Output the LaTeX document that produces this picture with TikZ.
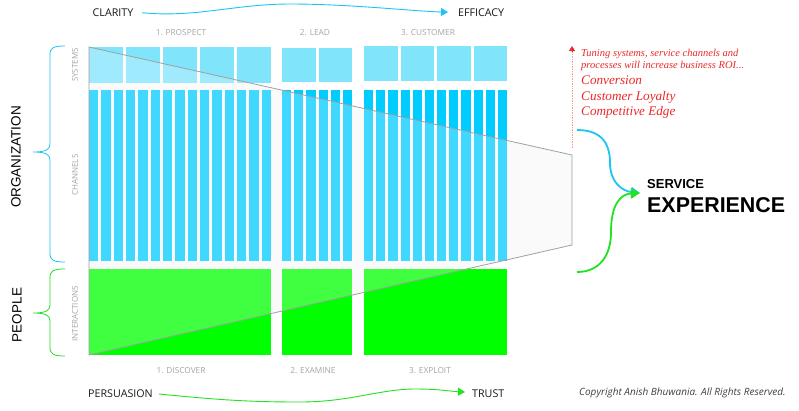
\documentclass[tikz,border=0pt]{standalone}
\usepackage{fontspec}
\setmainfont{Open Sans}
\newfontfamily\arialfont{Liberation Sans}
\newfontfamily\timesfont{Liberation Serif}
\usetikzlibrary{arrows.meta}

\definecolor{sysblue}{RGB}{128,228,251}
\definecolor{chanblue}{RGB}{0,204,255}
\definecolor{peogreen}{RGB}{0,255,0}
\definecolor{wireblue}{RGB}{30,196,244}
\definecolor{wiregreen}{RGB}{34,226,34}
\definecolor{roired}{RGB}{236,40,40}
\definecolor{labgray}{RGB}{165,165,165}
\definecolor{funnelgray}{RGB}{160,160,160}
\definecolor{funnelbg}{RGB}{249,249,249}

% colour, top, tip, bottom
\newcommand{\sidebrace}[4]{
  \draw[#1,line width=0.8pt] (65,#2) .. controls (53,#2) and (50,#2+2) .. (50,#2+9)
    -- (50,#3-8) .. controls (50,#3-2) and (45,#3) .. (33,#3)
    .. controls (45,#3) and (50,#3+2) .. (50,#3+8)
    -- (50,#4-9) .. controls (50,#4-2) and (53,#4) .. (65,#4);
}

\begin{document}
\begin{tikzpicture}[x=1pt,y=-1pt,
  toplab/.style={anchor=west,inner sep=0pt,text=black!90,font=\fontsize{10.7}{12}\selectfont},
  seclab/.style={inner sep=0pt,text=labgray,font=\fontsize{8.3}{10}\selectfont},
  rowlab/.style={inner sep=0pt,rotate=90,text=labgray,font=\fontsize{8}{10}\selectfont},
  sidelab/.style={inner sep=0pt,rotate=90,font=\arialfont\fontsize{13.5}{15}\selectfont},
  roitext/.style={anchor=base west,inner sep=0pt,text=roired,font=\timesfont\itshape\fontsize{10.5}{12}\selectfont},
  roibig/.style={roitext,font=\timesfont\itshape\fontsize{13.2}{15}\selectfont},
  goal/.style={anchor=base west,inner sep=0pt,font=\arialfont\bfseries},
  wave/.style={line width=0.9pt,-{Triangle[length=7pt,width=8pt]}},
  feed/.style={line width=1.8pt,-{Triangle[length=9pt,width=10pt]}},
  sysbox/.style={fill=sysblue},
  chanbar/.style={fill=chanblue},
  peobox/.style={fill=peogreen}]

   \fill[white] (0,0) rectangle (799,410);

   \coordinate (tl) at (89,47);
   \coordinate (tr) at (572,155);
   \coordinate (br) at (572,245);
   \coordinate (bl) at (89,355);

   \fill[funnelbg] (tl) -- (tr) -- (br) -- (bl) -- cycle;

   % systems
   \foreach \i in {0,...,4} \fill[sysbox] ({89+37*\i},47) rectangle +(34,36);
   \foreach \i in {0,1} \fill[sysbox] ({282+36.5*\i},48) rectangle +(33.5,34);
   \foreach \i in {0,...,3} \fill[sysbox] ({364+36.5*\i},46) rectangle +(33.5,35);
   % channels
   \foreach \i in {0,...,14} \fill[chanbar] ({89+12.33*\i},90) rectangle +(9.33,171);
   \foreach \i in {0,...,5} \fill[chanbar] ({282+12.17*\i},90) rectangle +(9.17,171);
   \foreach \i in {0,...,11} \fill[chanbar] ({364+12.17*\i},90) rectangle +(9.17,171);
   % interactions
   \fill[peobox] (89,269) rectangle (271,355);
   \fill[peobox] (282,269) rectangle (352,355);
   \fill[peobox] (364,269) rectangle (507,355);

   \fill[white,opacity=.25] (tl) -- (tr) -- (br) -- (bl) -- cycle;
   \draw[funnelgray,line width=0.8pt] (tl) -- (tr) -- (br) -- (bl) -- cycle;

   \node[toplab] (clarity) at (92.5,12.7) {CLARITY};
   \node[toplab] (efficacy) at (458,12.7) {EFFICACY};
   \node[toplab] (persuasion) at (88,394) {PERSUASION};
   \node[toplab] (trust) at (472,394) {TRUST};

   \draw[wave,wireblue] ([xshift=8.5pt]clarity.east) .. controls (195,18) and (235,4) .. (290,4)
      .. controls (350,4) and (410,11) .. ([xshift=-10pt,yshift=0.5pt]efficacy.west);
   \draw[wave,wiregreen] ([xshift=6pt]persuasion.east) .. controls (220,400) and (250,402) .. (300,402)
      .. controls (350,402) and (380,389) .. (415,389)
      .. controls (440,389) and (452,391.5) .. ([xshift=-7pt,yshift=2pt]trust.west);

   \node[seclab] (prospect) at (181,33) {1. PROSPECT};
   \node[seclab] (lead) at (315,33) {2. LEAD};
   \node[seclab] (customer) at (428,33) {3. CUSTOMER};
   \node[seclab] (discover) at (181,371) {1. DISCOVER};
   \node[seclab] (examine) at (313,371) {2. EXAMINE};
   \node[seclab] (exploit) at (430,371) {3. EXPLOIT};

   \node[rowlab] (systems) at (75,65) {SYSTEMS};
   \node[rowlab] (channels) at (75,175) {CHANNELS};
   \node[rowlab] (interactions) at (75,314) {INTERACTIONS};

   \node[sidelab] (organization) at (16,157) {ORGANIZATION};
   \node[sidelab] (people) at (17,315) {PEOPLE};
   \sidebrace{wireblue}{46}{152}{262}
   \sidebrace{wiregreen}{269}{313}{356}

   \coordinate (roibase) at (572,148);
   \coordinate (roitip) at (572,46);
   \draw[roired!45,densely dotted,line width=0.7pt] (roibase) -- ([yshift=-4pt]roitip);
   \draw[roired,-{Triangle[length=5pt,width=6pt]}] ([yshift=-4.5pt]roitip) -- (roitip);

   \node[roitext] (tuning) at (581,56.7) {Tuning systems, service channels and};
   \node[roitext] (roi) at (581,68.3) {processes will increase business ROI...};
   \node[roibig] (conversion) at (581,84) {Conversion};
   \node[roibig] (loyalty) at (581,100) {Customer Loyalty};
   \node[roibig] (edge) at (581,115.7) {Competitive Edge};

   \node[goal,font=\arialfont\bfseries\fontsize{13}{14}\selectfont] (service) at (647,188.7) {SERVICE};
   \node[goal,font=\arialfont\bfseries\fontsize{21.4}{23}\selectfont] (experience) at (647,212.7) {EXPERIENCE};

   \coordinate (orgend) at (577,130);
   \coordinate (peoend) at (577,272);
   \draw[feed,wireblue] (orgend) .. controls (603,130) and (610,145) .. (610,163)
      .. controls (610,182) and (622,191) .. ([xshift=-7pt,yshift=-4pt]service.south west);
   \draw[feed,wiregreen] (peoend) .. controls (600,272) and (611,255) .. (611,232)
      .. controls (611,205) and (620,194) .. ([xshift=-7pt,yshift=-4pt]service.south west);

   \node[anchor=west,inner sep=0pt,text=black!75,font=\itshape\fontsize{10}{12}\selectfont] (copyright) at (579,393) {Copyright Anish Bhuwania. All Rights Reserved.};
\end{tikzpicture}
\end{document}
